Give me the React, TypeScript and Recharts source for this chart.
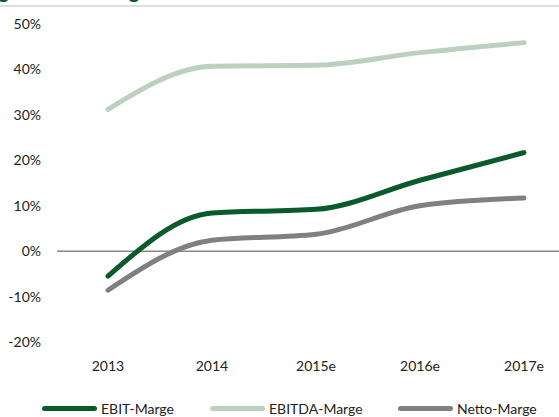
import { LineChart, Line, XAxis, YAxis, ReferenceLine } from "recharts";

const years = ["2013", "2014", "2015e", "2016e", "2017e"];
const ebit = [-0.055, 0.084, 0.092, 0.156, 0.217];
const ebitda = [0.312, 0.407, 0.409, 0.437, 0.459];
const netto = [-0.086, 0.024, 0.037, 0.1, 0.117];
const yTicks = [-0.2, -0.1, 0, 0.1, 0.2, 0.3, 0.4, 0.5];

const DARK = "#0B5A2B";
const LIGHT = "#BCD0C0";
const GRAY = "#808080";
const FONT = "Lato, 'Open Sans', sans-serif";

const series = [
  { key: "ebit", name: "EBIT-Marge", color: DARK },
  { key: "ebitda", name: "EBITDA-Marge", color: LIGHT },
  { key: "netto", name: "Netto-Marge", color: GRAY },
];

const data = years.map((y, i) => ({
  year: y,
  ebit: ebit[i],
  ebitda: ebitda[i],
  netto: netto[i],
}));

const legendPos = [42, 210, 398];

export default function App() {
  return (
    <div
      style={{
        position: "fixed",
        left: 0,
        top: 0,
        width: 559,
        height: 417,
        overflow: "hidden",
        background: "#fff",
        fontFamily: FONT,
      }}
    >
      {/* title, cut off at the top like the source */}
      <div
        style={{
          position: "absolute",
          left: -38,
          top: -20,
          fontSize: 20,
          fontWeight: 700,
          color: DARK,
          whiteSpace: "nowrap",
          lineHeight: "20px",
        }}
      >
        Margenentwicklung
      </div>
      <div
        style={{
          position: "absolute",
          left: 0,
          top: 5,
          width: 559,
          height: 2,
          background: "#D9E2DA",
        }}
      />
      <div style={{ position: "absolute", left: 0, top: 0 }}>
        <LineChart
          width={575}
          height={417}
          data={data}
          margin={{ top: 24, right: 0, bottom: 0, left: 0 }}
        >
          <XAxis
            dataKey="year"
            axisLine={false}
            tickLine={false}
            tickMargin={13}
            padding={{ left: 51, right: 51 }}
            tick={{ fontSize: 14, fill: "#222", fontFamily: FONT }}
            height={75}
          />
          <YAxis
            type="number"
            domain={[-0.2, 0.5]}
            ticks={yTicks}
            axisLine={false}
            tickLine={false}
            tickMargin={10}
            width={57}
            tickFormatter={(v) => `${Math.round(v * 100)}%`}
            tick={{ fontSize: 14, fill: "#222", fontFamily: FONT }}
          />
          <ReferenceLine y={0} stroke="#888" strokeWidth={1.5} />
          {series.map((s) => (
            <Line
              key={s.key}
              dataKey={s.key}
              name={s.name}
              type="monotone"
              stroke={s.color}
              strokeWidth={5}
              strokeLinecap="round"
              dot={false}
              activeDot={false}
              isAnimationActive={false}
            />
          ))}
        </LineChart>
      </div>
      {series.map((s, i) => (
        <div
          key={s.key}
          style={{
            position: "absolute",
            left: legendPos[i],
            top: 398,
            height: 20,
            display: "flex",
            alignItems: "center",
            fontSize: 14,
            color: "#222",
          }}
        >
          <span
            style={{
              display: "inline-block",
              width: 55,
              height: 5,
              borderRadius: 3,
              background: s.color,
              marginRight: 4,
            }}
          />
          {s.name}
        </div>
      ))}
    </div>
  );
}
